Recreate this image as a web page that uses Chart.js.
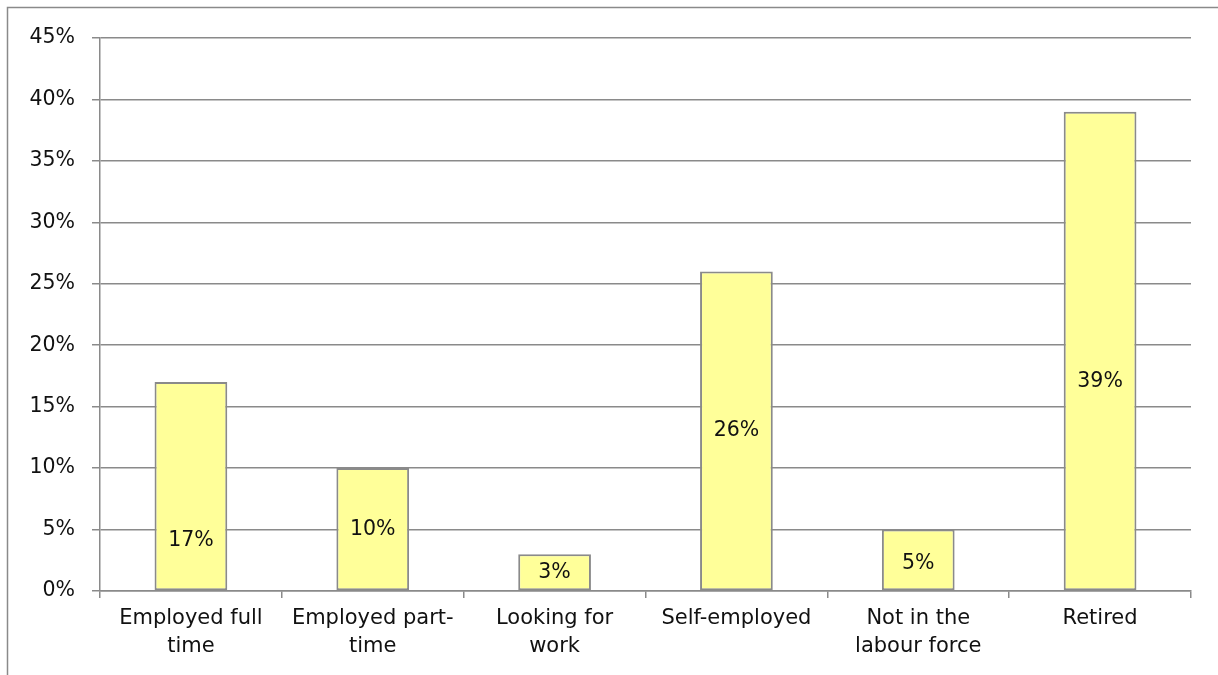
<!DOCTYPE html>
<html>
<head>
<meta charset="utf-8">
<script src="https://cdn.jsdelivr.net/npm/chart.js"></script>
<style>
  html, body { margin: 0; padding: 0; background: #fff; }
  #wrap { width: 1218px; height: 675px; }
</style>
</head>
<body>
<div id="wrap"><canvas id="chart" width="1218" height="675"></canvas></div>
<script>
// employment status of respondents
const categories = [
  ['Employed full', 'time'],
  ['Employed part-', 'time'],
  ['Looking for', 'work'],
  ['Self-employed'],
  ['Not in the', 'labour force'],
  ['Retired']
];
const shares = [17, 10, 3, 26, 5, 39];
const yTicks = [0, 5, 10, 15, 20, 25, 30, 35, 40, 45];

const FONT = '"DejaVu Sans", sans-serif';
const GRID = '#8a8a8a';

// thin frame around the whole chart (left and top edges show)
const frame = {
  id: 'frame',
  beforeDraw(chart) {
    const ctx = chart.ctx;
    ctx.save();
    ctx.strokeStyle = GRID;
    ctx.lineWidth = 1.5;
    ctx.beginPath();
    ctx.moveTo(7.5, chart.height);
    ctx.lineTo(7.5, 7.5);
    ctx.lineTo(chart.width, 7.5);
    ctx.stroke();
    ctx.restore();
  }
};

// value labels inside each bar
const barLabels = {
  id: 'barLabels',
  afterDatasetsDraw(chart, args, opts) {
    const ctx = chart.ctx;
    const meta = chart.getDatasetMeta(0);
    ctx.save();
    ctx.font = '20.5px ' + FONT;
    ctx.fillStyle = '#111';
    ctx.textAlign = 'center';
    ctx.textBaseline = 'middle';
    meta.data.forEach((bar, i) => {
      const f = opts.at[i];
      const y = bar.base - (bar.base - bar.y) * f;
      ctx.fillText(shares[i] + '%', bar.x, y);
    });
    ctx.restore();
  }
};

new Chart(document.getElementById('chart'), {
  type: 'bar',
  data: {
    labels: categories,
    datasets: [{
      data: shares,
      backgroundColor: '#ffff99',
      borderColor: '#8a8a8a',
      borderWidth: 2,
      borderSkipped: false,
      categoryPercentage: 1,
      barPercentage: 0.4
    }]
  },
  options: {
    responsive: false,
    animation: false,
    layout: { padding: { left: 8, right: 27, top: 38, bottom: 0 } },
    plugins: {
      legend: { display: false },
      tooltip: { enabled: false },
      barLabels: { at: [0.24, 0.5, 0.5, 0.5, 0.43, 0.435] }
    },
    scales: {
      y: {
        min: 0,
        max: 45,
        afterFit: s => { s.width = 92; },
        afterBuildTicks: s => { s.ticks = yTicks.map(v => ({ value: v })); },
        ticks: {
          callback: v => v + '%',
          color: '#111',
          font: { family: FONT, size: 20.5 },
          padding: 17
        },
        grid: { color: GRID, lineWidth: 1.5, tickLength: 8 },
        border: { color: GRID, width: 1.5 }
      },
      x: {
        afterFit: s => { s.height = 84; },
        ticks: {
          color: '#111',
          font: { family: FONT, size: 21, lineHeight: 1.33 },
          padding: 7,
          maxRotation: 0,
          autoSkip: false
        },
        grid: { drawOnChartArea: false, color: GRID, lineWidth: 1.5, tickLength: 7 },
        border: { color: GRID, width: 1.5 }
      }
    }
  },
  plugins: [frame, barLabels]
});
</script>
</body>
</html>
